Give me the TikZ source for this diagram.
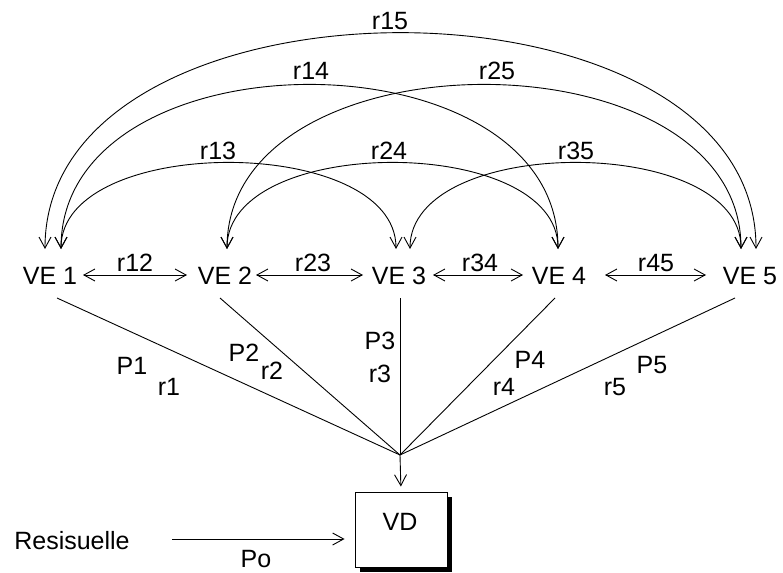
\documentclass[tikz,border=0pt]{standalone}
\usepackage{fontspec}
\setmainfont{Liberation Sans}
\usetikzlibrary{arrows.meta,shadows}
\begin{document}
\begin{tikzpicture}[x=1pt,y=-1pt,
  lbl/.style={inner sep=0pt, anchor=base, font=\fontsize{25}{30}\selectfont},
  clbl/.style={inner sep=0pt, anchor=center, font=\fontsize{25}{30}\selectfont},
  conn/.style={line width=0.9pt},
  >={Straight Barb[length=11pt,width=12pt,line width=0.9pt]}]
\useasboundingbox (0,0) rectangle (783,572);

% variable nodes
\node[lbl] (ve1) at (50,284) {VE 1};
\node[lbl] (ve2) at (225,284) {VE 2};
\node[lbl] (ve3) at (399,284) {VE 3};
\node[lbl] (ve4) at (559,284) {VE 4};
\node[lbl] (ve5) at (750,284) {VE 5};

% arc end points (arrow tips above the nodes)
\coordinate (a1) at (45,249);
\coordinate (b1) at (61,249);
\coordinate (a2) at (227,249);
\coordinate (a3) at (396,249);
\coordinate (b3) at (410,249);
\coordinate (a4) at (558,249);
\coordinate (a5) at (741,249);
\coordinate (b5) at (756,249);

% arcs
\draw[conn,<->] (b1) .. controls +(0,-115) and +(0,-115) .. (a3);
\draw[conn,<->] (b1) .. controls +(0,-219) and +(0,-219) .. (a4);
\draw[conn,<->] (a1) .. controls +(0,-288) and +(0,-288) .. (b5);
\draw[conn,<->] (a2) .. controls +(0,-115) and +(0,-115) .. (a4);
\draw[conn,<->] (a2) .. controls +(0,-219) and +(0,-219) .. (a5);
\draw[conn,<->] (b3) .. controls +(0,-115) and +(0,-115) .. (a5);

\node[lbl] (l13) at (218,160) {r13};
\node[lbl] (l24) at (389,160) {r24};
\node[lbl] (l35) at (576,160) {r35};
\node[lbl] (l14) at (311,80) {r14};
\node[lbl] (l25) at (497,80) {r25};
\node[lbl] (l15) at (390,30) {r15};

% horizontal arrows
\coordinate (h1l) at (83,275);  \coordinate (h1r) at (187,275);
\coordinate (h2l) at (256,275); \coordinate (h2r) at (363,275);
\coordinate (h3l) at (433,275); \coordinate (h3r) at (523,275);
\coordinate (h4l) at (605,275); \coordinate (h4r) at (706,275);
\draw[conn,<->] (h1l) -- (h1r);
\draw[conn,<->] (h2l) -- (h2r);
\draw[conn,<->] (h3l) -- (h3r);
\draw[conn,<->] (h4l) -- (h4r);
\node[lbl] (l12) at (135,271) {r12};
\node[lbl] (l23) at (313,271) {r23};
\node[lbl] (l34) at (480,271) {r34};
\node[lbl] (l45) at (656,271) {r45};

% paths to VD
\coordinate (s1) at (57,298);
\coordinate (s2) at (220,298);
\coordinate (s3) at (400,298);
\coordinate (s4) at (555,298);
\coordinate (s5) at (735,298);
\coordinate (c) at (400,455);
\draw[conn] (s1) -- (c);
\draw[conn] (s2) -- (c);
\draw[conn] (s3) -- (c);
\draw[conn] (s4) -- (c);
\draw[conn] (s5) -- (c);

\node[clbl] (p1) at (132,366) {P1};
\node[clbl] (q1) at (169,387) {r1};
\node[clbl] (p2) at (244,353) {P2};
\node[clbl] (q2) at (272,371) {r2};
\node[clbl] (p3) at (380,341) {P3};
\node[clbl] (q3) at (380,374) {r3};
\node[clbl] (p4) at (530,360) {P4};
\node[clbl] (q4) at (504,387) {r4};
\node[clbl] (p5) at (652,365) {P5};
\node[clbl] (q5) at (615,387) {r5};

% VD box
\node[draw, conn, fill=white, minimum width=92pt, minimum height=75pt, inner sep=0pt,
      drop shadow={shadow xshift=5pt, shadow yshift=-5pt, fill=black, opacity=1}]
      (vd) at (401,529.5) {};
\node[lbl] (vdl) at (400,530) {VD};
\draw[conn,->,shorten >=5pt] (c) -- (vd.north);

% residual
\node[lbl] (res) at (72,549) {Resisuelle};
\coordinate (ra) at (172,539);
\draw[conn,->,shorten >=10pt] (ra) -- (vd.west |- ra);
\node[lbl] (po) at (256,567) {Po};
\end{tikzpicture}
\end{document}
